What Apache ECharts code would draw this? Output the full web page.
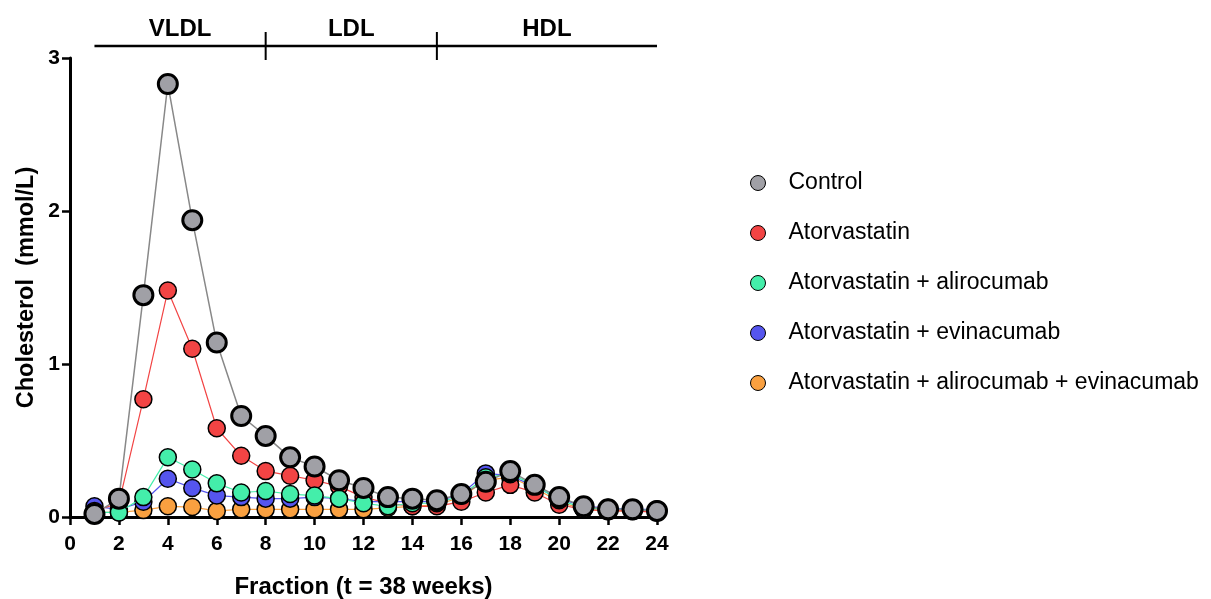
<!DOCTYPE html>
<html><head><meta charset="utf-8">
<script src="https://cdn.jsdelivr.net/npm/echarts@6/dist/echarts.min.js"></script>
<style>html,body{margin:0;padding:0;background:#fff}#c{width:1211px;height:599px}</style>
</head><body><div id="c"></div>
<script>
const fractions = [1,2,3,4,5,6,7,8,9,10,11,12,13,14,15,16,17,18,19,20,21,22,23,24];
const seriesNames = ['Control','Atorvastatin','Atorvastatin + alirocumab','Atorvastatin + evinacumab','Atorvastatin + alirocumab + evinacumab'];
const control   = [0.02,0.12,1.45,2.83,1.94,1.14,0.66,0.53,0.39,0.33,0.24,0.19,0.13,0.12,0.11,0.15,0.23,0.30,0.21,0.13,0.07,0.05,0.05,0.04];
const atorva    = [0.04,0.09,0.77,1.48,1.10,0.58,0.40,0.30,0.27,0.24,0.20,0.13,0.09,0.07,0.07,0.10,0.16,0.21,0.16,0.08,0.05,0.04,0.04,0.03];
const atorvaAli = [0.03,0.03,0.13,0.39,0.31,0.22,0.16,0.17,0.15,0.14,0.12,0.09,0.07,0.09,0.09,0.14,0.26,0.28,0.21,0.11,0.06,0.05,0.05,0.04];
const atorvaEvi = [0.07,0.05,0.10,0.25,0.19,0.14,0.13,0.12,0.12,0.13,0.12,0.10,0.10,0.10,0.10,0.15,0.285,0.27,0.20,0.12,0.07,0.06,0.05,0.05];
const atorvaAliEvi = [0.03,0.03,0.045,0.07,0.065,0.04,0.05,0.05,0.05,0.05,0.05,0.05,0.06,0.07,0.08,0.13,0.24,0.26,0.19,0.10,0.05,0.04,0.04,0.04];
const xTicks = [0,2,4,6,8,10,12,14,16,18,20,22,24];
const yTicks = [0,1,2,3];
const regions = [{name:'VLDL',from:1,to:8},{name:'LDL',from:8,to:15},{name:'HDL',from:15,to:24}];

const colors = ['#a0a0a6','#f24444','#44eeaa','#5555ee','#f9a040'];
const lineColors = ['#888888','#f24444','#44eeaa','#5555ee','#f9a040'];
const allData = [control, atorva, atorvaAli, atorvaEvi, atorvaAliEvi];
const zOrder = [5,3,4,2,1];
const font = "'Liberation Sans',Arial,sans-serif";

const chart = echarts.init(document.getElementById('c'), null, {renderer:'canvas'});
const series = seriesNames.map((n,i)=>({
  name:n, type:'line', z: zOrder[i]+1,
  data: fractions.map((f,j)=>[f, allData[i][j]]),
  symbol:'circle', symbolSize: i===0?19:17,
  lineStyle:{color:lineColors[i], width: i===0?1.5:1.2},
  itemStyle:{color:colors[i], borderColor:'#000', borderWidth: i===0?3:1.5},
  emphasis:{disabled:true}, animation:false
}));
const option = {
  animation:false,
  grid:{left:70, right:554, top:58, bottom:82, containLabel:false, outerBoundsMode:'none'},
  xAxis:{type:'value', min:0, max:24, interval:2,
    axisLine:{show:true, onZero:false, lineStyle:{color:'#000', width:3}},
    axisTick:{show:true, length:8, lineStyle:{color:'#000', width:2.5}},
    axisLabel:{color:'#000', fontFamily:font, fontWeight:'bold', fontSize:21, margin:17,
      customValues: xTicks},
    splitLine:{show:false},
    name:'Fraction (t = 38 weeks)', nameLocation:'middle', nameGap:58,
    nameTextStyle:{color:'#000', fontFamily:font, fontWeight:'bold', fontSize:24}
  },
  yAxis:{type:'value', min:0, max:3, interval:1,
    axisLine:{show:true, lineStyle:{color:'#000', width:3}},
    axisTick:{show:true, length:8, lineStyle:{color:'#000', width:2.5}},
    axisLabel:{color:'#000', fontFamily:font, fontWeight:'bold', fontSize:21, margin:10,
      customValues: yTicks},
    splitLine:{show:false},
    name:'Cholesterol  (mmol/L)', nameLocation:'middle', nameGap:31,
    nameTextStyle:{color:'#000', fontFamily:font, fontWeight:'bold', fontSize:23.5}
  },
  legend:{orient:'vertical', left:745, top:164, itemGap:22, itemWidth:15, itemHeight:15,
    data: seriesNames.map(n=>({name:n, icon:'circle'})),
    itemStyle:{borderWidth:1, borderColor:'#000'},
    textStyle:{color:'#000', fontFamily:font, fontSize:23, lineHeight:28, padding:[0,0,0,18]},
    selectedMode:false
  },
  series: series
};
chart.setOption(option);

// region bracket above the plot, positioned through the chart's own scales
const g = [];
const p0 = chart.convertToPixel({gridIndex:0}, [regions[0].from, 3]);
const pEnd = chart.convertToPixel({gridIndex:0}, [regions[regions.length-1].to, 3]);
const yLine = p0[1] - 12;
g.push({type:'line', shape:{x1:p0[0], y1:yLine, x2:pEnd[0], y2:yLine}, style:{stroke:'#000', lineWidth:2.5}});
regions.forEach((r,i)=>{
  const a = chart.convertToPixel({gridIndex:0}, [r.from, 3])[0];
  const b = chart.convertToPixel({gridIndex:0}, [r.to, 3])[0];
  if (i>0) g.push({type:'line', shape:{x1:a, y1:yLine-14, x2:a, y2:yLine+14}, style:{stroke:'#000', lineWidth:2}});
  g.push({type:'text', x:(a+b)/2, y:yLine-5, style:{text:r.name, fill:'#000', font:"bold 24px "+font, textAlign:'center', textVerticalAlign:'bottom'}});
});
chart.setOption({graphic:g});
</script>
</body></html>
